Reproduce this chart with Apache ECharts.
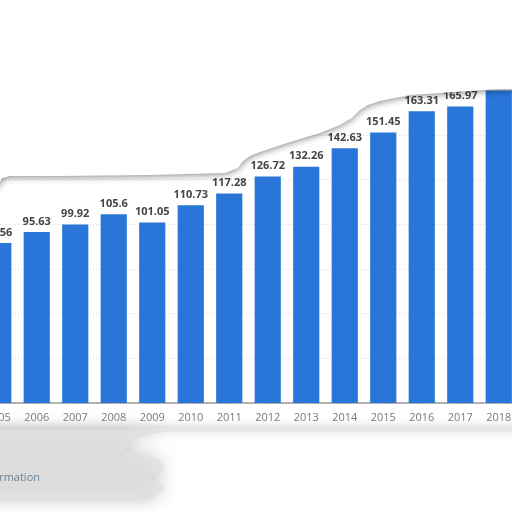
<!DOCTYPE html>
<html><head><meta charset="utf-8">
<script src="https://cdn.jsdelivr.net/npm/echarts@6/dist/echarts.min.js"></script>
<style>html,body{margin:0;padding:0;background:#fff;overflow:hidden;width:512px;height:512px;position:relative}#c{position:absolute;left:-21px;top:0;width:539px;height:512px}</style>
</head><body><div id="c"></div>
<script>
const years = ['2005','2006','2007','2008','2009','2010','2011','2012','2013','2014','2015','2016','2017','2018'];
const values = [89.56, 95.63, 99.92, 105.6, 101.05, 110.73, 117.28, 126.72, 132.26, 142.63, 151.45, 163.31, 165.97, 174.9];
const labelText = ['89.56','95.63','99.92','105.6','101.05','110.73','117.28','126.72','132.26','142.63','151.45','163.31','165.97',''];

const OX = 21; // page-to-chart x offset
const P = pts => pts.map(p => [p[0] + OX, p[1]]);

const chart = echarts.init(document.getElementById('c'));
chart.setOption({
  animation: false,
  grid: { left: 0, right: 0, top: 90.3, bottom: 109, containLabel: false },
  xAxis: {
    type: 'category', data: years,
    axisLine: { lineStyle: { color: '#9a9a9a', width: 1.5 } },
    axisTick: { show: false },
    axisLabel: { color: '#777', fontSize: 11, fontFamily: 'Open Sans', margin: 9 }
  },
  yAxis: {
    type: 'value', min: 0, max: 175, interval: 25,
    axisLabel: { show: false }, axisLine: { show: false }, axisTick: { show: false },
    splitLine: { lineStyle: { color: '#dcdcdc', type: [1, 2] } }
  },
  series: [{
    type: 'bar', barWidth: '68%',
    data: values.map((v, i) => ({ value: v, label: { show: labelText[i] !== '' } })),
    itemStyle: { color: '#2a75d8' },
    label: {
      show: true, position: 'top', distance: 5,
      formatter: p => labelText[p.dataIndex],
      color: '#444', fontSize: 11, fontWeight: 'bold', fontFamily: 'Open Sans'
    }
  }],
  graphic: [
    {
      type: 'polygon', z: 100,
      shape: { points: P([[-20,-20],[540,-20],[540,89],[500,89],[470,91],[440,93],[410,95],[400,97],[380,101],[368,105],[360,110],[352,118],[340,125],[320,133],[290,142],[260,152],[250,156],[243,161],[238,168],[225,173],[150,175],[60,176],[10,176],[2,178],[-2,186],[-20,186]]) },
      style: { fill: '#fff', shadowBlur: 7, shadowColor: 'rgba(0,0,0,0.5)', shadowOffsetY: 1 }
    },
    {
      type: 'polygon', z: 90,
      shape: { points: P([[-20,432],[530,432],[530,425],[-20,425]]) },
      style: { fill: 'rgba(230,230,230,0.6)', shadowBlur: 8, shadowColor: 'rgba(190,190,190,0.8)' }
    },
    {
      type: 'polygon', z: 90,
      shape: { points: P([[-20,430],[170,430],[130,440],[125,450],[160,460],[165,470],[150,478],[165,488],[150,500],[-20,500]]) },
      style: { fill: 'rgba(225,225,225,0.8)', shadowBlur: 18, shadowColor: 'rgba(180,180,180,0.9)' }
    },
    {
      type: 'text', z: 110, right: 539 - (40 + OX), top: 472,
      style: { text: 'Additional Information', fill: '#6b8298', fontSize: 11, fontFamily: 'Open Sans' }
    }
  ]
});
</script></body></html>
